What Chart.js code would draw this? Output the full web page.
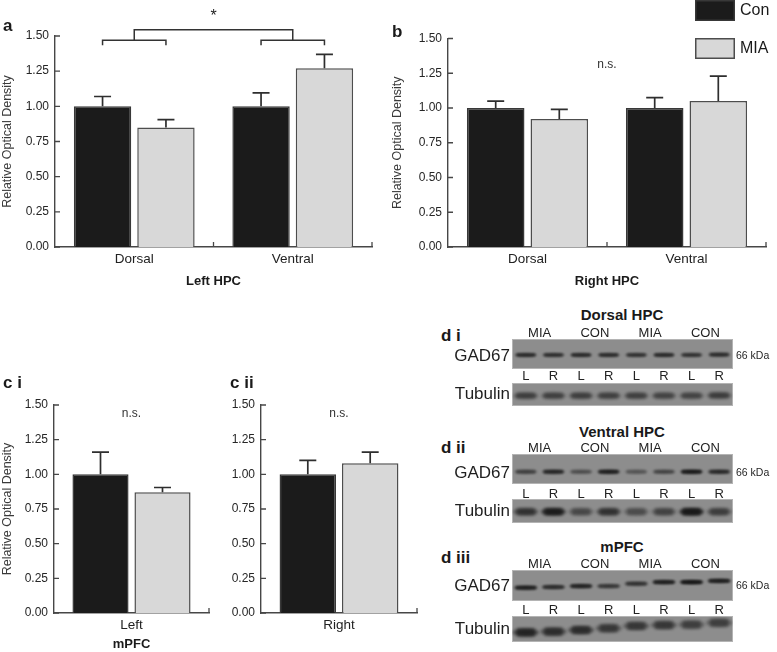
<!DOCTYPE html>
<html>
<head>
<meta charset="utf-8">
<script src="https://cdn.jsdelivr.net/npm/chart.js@4.4.1/dist/chart.umd.min.js"></script>
<style>
  html, body { margin: 0; padding: 0; background: #fff; }
  body { width: 777px; height: 652px; position: relative; overflow: hidden;
         font-family: "Liberation Sans", Arial, Helvetica, sans-serif; color: #1a1a1a; }
  .box { position: absolute; }
  .lab { position: absolute; font-weight: bold; line-height: 1; white-space: nowrap; }
</style>
</head>
<body>
<div class="box" style="left:0;top:0;width:390px;height:300px"><canvas id="chA"></canvas></div>
<div class="box" style="left:390px;top:0;width:387px;height:300px"><canvas id="chB"></canvas></div>
<div class="box" style="left:0;top:300px;width:225px;height:352px"><canvas id="chCi"></canvas></div>
<div class="box" style="left:225px;top:300px;width:200px;height:352px"><canvas id="chCii"></canvas></div>

<div class="lab" style="left:3px;top:17px;font-size:17px">a</div>
<div class="lab" style="left:392px;top:23px;font-size:17px">b</div>
<div class="lab" style="left:3px;top:374px;font-size:17px">c i</div>
<div class="lab" style="left:230px;top:374px;font-size:17px">c ii</div>
<div class="lab" style="left:441px;top:327px;font-size:17px">d i</div>
<div class="lab" style="left:441px;top:439px;font-size:17px">d ii</div>
<div class="lab" style="left:441px;top:549px;font-size:17px">d iii</div>
<div class="lab" style="left:522px;top:307px;width:200px;text-align:center;font-size:15px">Dorsal HPC</div>
<div class="lab" style="left:522px;top:424px;width:200px;text-align:center;font-size:15px">Ventral HPC</div>
<div class="lab" style="left:522px;top:539px;width:200px;text-align:center;font-size:15px">mPFC</div>

<script>
// ---- data ----
const groups = ['Con', 'MIA'];
const hpcRegions = ['Dorsal', 'Ventral'];
const sides = ['Left', 'Right'];
const yTicks = [0, 0.25, 0.5, 0.75, 1.0, 1.25, 1.5];

const leftHpcCon = [1.00, 1.00];
const leftHpcConSem = [0.07, 0.095];
const leftHpcMia = [0.85, 1.27];
const leftHpcMiaSem = [0.055, 0.10];

const rightHpcCon = [1.00, 1.00];
const rightHpcConSem = [0.05, 0.075];
const rightHpcMia = [0.92, 1.05];
const rightHpcMiaSem = [0.07, 0.18];

// mPFC: Left, Right
const mpfcCon = [1.00, 1.00];
const mpfcConSem = [0.16, 0.10];
const mpfcMia = [0.87, 1.08];
const mpfcMiaSem = [0.035, 0.08];

// western blots: lanes, band darkness and band height in strip (0 = bottom, 1 = top)
const lanes = ['L', 'R', 'L', 'R', 'L', 'R', 'L', 'R'];
const laneGroups = ['MIA', 'CON', 'MIA', 'CON'];
const diGad = [0.60, 0.56, 0.60, 0.58, 0.52, 0.60, 0.52, 0.60];
const diGadPos = [0.47, 0.47, 0.47, 0.47, 0.47, 0.47, 0.47, 0.48];
const diTub = [0.42, 0.40, 0.42, 0.40, 0.40, 0.38, 0.38, 0.43];
const diTubPos = [0.45, 0.45, 0.45, 0.45, 0.45, 0.45, 0.45, 0.46];
const diiGad = [0.42, 0.62, 0.32, 0.70, 0.28, 0.38, 0.75, 0.60];
const diiGadPos = [0.41, 0.41, 0.41, 0.41, 0.41, 0.41, 0.41, 0.41];
const diiTub = [0.50, 0.72, 0.34, 0.50, 0.32, 0.38, 0.78, 0.42];
const diiTubPos = [0.47, 0.47, 0.47, 0.47, 0.47, 0.47, 0.47, 0.47];
const diiiGad = [0.70, 0.56, 0.65, 0.48, 0.52, 0.70, 0.80, 0.70];
const diiiGadPos = [0.43, 0.45, 0.48, 0.48, 0.56, 0.61, 0.61, 0.65];
const diiiTub = [0.62, 0.54, 0.54, 0.45, 0.45, 0.45, 0.40, 0.40];
const diiiTubPos = [0.37, 0.40, 0.46, 0.53, 0.62, 0.65, 0.67, 0.74];

Chart.defaults.font.family = '"Liberation Sans", Arial, Helvetica, sans-serif';
Chart.defaults.color = '#262626';

// error bars, inward ticks, brackets, n.s., key
const decorPlugin = {
  id: 'decor',
  afterDatasetsDraw(chart, args, o) {
    const { ctx, chartArea } = chart;
    const xs = chart.scales.x, ys = chart.scales.y;
    const fam = Chart.defaults.font.family;
    ctx.save();
    ctx.strokeStyle = '#2e2e2e';
    ctx.lineWidth = 1.7;
    chart.data.datasets.forEach((ds, di) => {
      chart.getDatasetMeta(di).data.forEach((bar, i) => {
        const y0 = ys.getPixelForValue(ds.data[i]);
        const y1 = ys.getPixelForValue(ds.data[i] + ds.sem[i]);
        ctx.beginPath();
        ctx.moveTo(bar.x, y0); ctx.lineTo(bar.x, y1);
        ctx.moveTo(bar.x - 8.5, y1); ctx.lineTo(bar.x + 8.5, y1);
        ctx.stroke();
      });
    });

    ctx.strokeStyle = '#474747';
    ctx.lineWidth = 1.3;
    ctx.beginPath();
    ys.ticks.forEach(t => {
      const py = ys.getPixelForValue(t.value);
      ctx.moveTo(chartArea.left, py); ctx.lineTo(chartArea.left + 5, py);
    });
    chart.data.labels.forEach((l, i) => {
      const px = xs.getPixelForValue(i + 0.5);
      ctx.moveTo(px, chartArea.bottom); ctx.lineTo(px, chartArea.bottom - 5);
    });
    ctx.stroke();

    if (o.bracket) {
      const b = o.bracket;
      const m0 = chart.getDatasetMeta(0).data, m1 = chart.getDatasetMeta(1).data;
      const yl = ys.getPixelForValue(b.low), yh = ys.getPixelForValue(b.high);
      const mids = [];
      ctx.strokeStyle = '#333';
      ctx.lineWidth = 1.5;
      ctx.beginPath();
      m0.forEach((bar, i) => {
        const xa = bar.x, xb = m1[i].x;
        ctx.moveTo(xa, yl + 5); ctx.lineTo(xa, yl); ctx.lineTo(xb, yl); ctx.lineTo(xb, yl + 5);
        mids.push((xa + xb) / 2);
      });
      ctx.moveTo(mids[0], yl); ctx.lineTo(mids[0], yh); ctx.lineTo(mids[1], yh); ctx.lineTo(mids[1], yl);
      ctx.stroke();
      ctx.fillStyle = '#222';
      ctx.font = '16px ' + fam;
      ctx.textAlign = 'center';
      ctx.textBaseline = 'middle';
      ctx.fillText('*', (mids[0] + mids[1]) / 2, ys.getPixelForValue(b.star));
    }

    if (o.ns != null) {
      ctx.fillStyle = '#333';
      ctx.font = '12px ' + fam;
      ctx.textAlign = 'center';
      ctx.textBaseline = 'middle';
      ctx.fillText('n.s.', (chartArea.left + chartArea.right) / 2, ys.getPixelForValue(o.ns));
    }

    if (o.key) {
      chart.data.datasets.forEach((ds, i) => {
        const y = o.key.y + i * o.key.step;
        ctx.fillStyle = ds.backgroundColor;
        ctx.fillRect(o.key.x, y, 40, 21);
        ctx.strokeStyle = ds.borderColor;
        ctx.lineWidth = 1.5;
        ctx.strokeRect(o.key.x + 0.75, y + 0.75, 38.5, 19.5);
        ctx.fillStyle = '#1a1a1a';
        ctx.font = '16px ' + fam;
        ctx.textAlign = 'left';
        ctx.textBaseline = 'middle';
        ctx.fillText(ds.label, o.key.x + 45, y + 11);
      });
    }
    ctx.restore();
  }
};

function barPanel(id, cats, con, conSem, mia, miaSem, cfg) {
  return new Chart(document.getElementById(id), {
    type: 'bar',
    data: {
      labels: cats,
      datasets: [
        { label: groups[0], data: con, sem: conSem, backgroundColor: '#1b1b1b', borderColor: '#383838' },
        { label: groups[1], data: mia, sem: miaSem, backgroundColor: '#d8d8d8', borderColor: '#4d4d4d' }
      ]
    },
    options: {
      responsive: true, maintainAspectRatio: false, animation: false, events: [],
      layout: { padding: { top: cfg.top, right: cfg.right, left: 0, bottom: 0 } },
      datasets: { bar: { borderWidth: 1.5, categoryPercentage: 0.8, barPercentage: 0.905 } },
      plugins: { legend: { display: false }, tooltip: { enabled: false }, decor: cfg.decor },
      scales: {
        x: {
          grid: { display: false, drawTicks: false },
          border: { color: '#474747', width: 1.4 },
          ticks: { font: { size: 13.5 }, color: '#222', padding: 4 },
          title: { display: !!cfg.xTitle, text: cfg.xTitle || '', font: { size: 13, weight: 'bold' },
                   color: '#1a1a1a', padding: { top: 0, bottom: cfg.xTitlePad } },
          afterFit: s => { s.height = cfg.xh; }
        },
        y: {
          min: 0, max: 1.5,
          afterBuildTicks: s => { s.ticks = yTicks.map(v => ({ value: v })); },
          grid: { display: false, drawTicks: false },
          border: { color: '#474747', width: 1.4 },
          ticks: { font: { size: 12 }, color: '#262626', padding: 6, callback: v => v.toFixed(2) },
          title: { display: !!cfg.yTitle, text: cfg.yTitle || '', font: { size: 12.5 }, color: '#3a3a3a',
                   padding: { top: 0, bottom: 0 } },
          afterFit: s => { s.width = cfg.yw; }
        }
      }
    },
    plugins: [decorPlugin]
  });
}

barPanel('chA', hpcRegions, leftHpcCon, leftHpcConSem, leftHpcMia, leftHpcMiaSem, {
  top: 36, right: 18, yw: 55, xh: 53, xTitle: 'Left HPC', xTitlePad: 11,
  yTitle: 'Relative Optical Density',
  decor: { bracket: { low: 1.47, high: 1.545, star: 1.64 } }
});
barPanel('chB', hpcRegions, rightHpcCon, rightHpcConSem, rightHpcMia, rightHpcMiaSem, {
  top: 38.5, right: 11, yw: 58, xh: 53, xTitle: 'Right HPC', xTitlePad: 11,
  yTitle: 'Relative Optical Density',
  decor: { ns: 1.31, key: { x: 305, y: 0, step: 38 } }
});
barPanel('chCi', [sides[0]], [mpfcCon[0]], [mpfcConSem[0]], [mpfcMia[0]], [mpfcMiaSem[0]], {
  top: 105, right: 16, yw: 54, xh: 39, xTitle: 'mPFC', xTitlePad: 0,
  yTitle: 'Relative Optical Density',
  decor: { ns: 1.44 }
});
barPanel('chCii', [sides[1]], [mpfcCon[1]], [mpfcConSem[1]], [mpfcMia[1]], [mpfcMiaSem[1]], {
  top: 105, right: 8, yw: 36, xh: 39,
  decor: { ns: 1.44 }
});

// ---- western blot strips ----
const bandCache = {};
function bandImg(d, b) {
  const key = [d, b.w, b.h, b.blur].join('_');
  if (bandCache[key]) return bandCache[key];
  const c = document.createElement('canvas');
  c.width = b.w + 12; c.height = Math.ceil(b.h) + 12;
  const g = c.getContext('2d');
  g.filter = 'blur(' + b.blur + 'px)';
  g.fillStyle = 'rgba(18,18,18,' + d + ')';
  g.beginPath();
  g.ellipse(c.width / 2, c.height / 2, b.w / 2, b.h / 2, 0, 0, Math.PI * 2);
  g.fill();
  g.fillRect(c.width / 2 - b.w / 2 + b.h / 2, c.height / 2 - b.h / 2, b.w - b.h, b.h);
  bandCache[key] = c;
  return c;
}

const blotBg = {
  id: 'blotBg',
  beforeDatasetsDraw(chart) {
    const { ctx, chartArea: a } = chart;
    ctx.save();
    ctx.fillStyle = '#8d8d8d';
    ctx.fillRect(a.left, a.top, a.right - a.left, a.bottom - a.top);
    ctx.strokeStyle = '#b4b4b4';
    ctx.lineWidth = 1;
    ctx.strokeRect(a.left + 0.5, a.top + 0.5, a.right - a.left - 1, a.bottom - a.top - 1);
    ctx.restore();
  }
};

const blotRegions = [
  { gadTop: 339, gadBottom: 369, tubTop: 383, tubBottom: 406, lrPad: 0.5, gadLabelAt: 0.42,
    gad: diGad, gadPos: diGadPos, tub: diTub, tubPos: diTubPos,
    gadBand: { w: 22, h: 3.5, blur: 1.1 }, tubBand: { w: 25, h: 6, blur: 1.8 } },
  { gadTop: 454, gadBottom: 484, tubTop: 499, tubBottom: 523, lrPad: 3.5, gadLabelAt: 0.37,
    gad: diiGad, gadPos: diiGadPos, tub: diiTub, tubPos: diiTubPos,
    gadBand: { w: 23, h: 3.8, blur: 1.2 }, tubBand: { w: 25, h: 7, blur: 1.8 } },
  { gadTop: 570, gadBottom: 601, tubTop: 616, tubBottom: 642, lrPad: 2.5, gadLabelAt: 0.47,
    gad: diiiGad, gadPos: diiiGadPos, tub: diiiTub, tubPos: diiiTubPos,
    gadBand: { w: 24, h: 3.8, blur: 1.1 }, tubBand: { w: 26, h: 8, blur: 1.8 } }
];

function blotStrip(r, isGad) {
  // room above/below the strip for the axes (labels only on the GAD67 strip)
  const padTop = isGad ? 16 : 12, padBottom = isGad ? 17 : 12;
  const top = (isGad ? r.gadTop : r.tubTop) - padTop;
  const bottom = (isGad ? r.gadBottom : r.tubBottom) + padBottom;
  const holder = document.createElement('div');
  holder.className = 'box';
  holder.style.cssText = 'left:440px;top:' + top + 'px;width:337px;height:' + (bottom - top) + 'px';
  const cv = document.createElement('canvas');
  holder.appendChild(cv);
  document.body.appendChild(holder);
  const band = isGad ? r.gadBand : r.tubBand;
  const dens = isGad ? r.gad : r.tub;
  const labelAt = isGad ? r.gadLabelAt : 0.5;
  const noPad = s => { s.paddingTop = 0; s.paddingBottom = 0; };
  new Chart(cv, {
    type: 'line',
    data: {
      labels: lanes,
      datasets: [{
        data: isGad ? r.gadPos : r.tubPos, xAxisID: 'x', yAxisID: 'y',
        showLine: false, clip: 0, pointRadius: 1,
        pointStyle: c => bandImg(dens[c.dataIndex], band)
      }]
    },
    options: {
      responsive: true, maintainAspectRatio: false, animation: false, events: [],
      layout: { padding: 0 },
      plugins: { legend: { display: false }, tooltip: { enabled: false } },
      scales: {
        x: {
          type: 'category', offset: true,
          grid: { display: false, drawTicks: false }, border: { display: false },
          ticks: { display: isGad, font: { size: 13, lineHeight: 1 }, color: '#222', padding: r.lrPad, autoSkip: false, maxRotation: 0 },
          afterFit: s => { s.height = padBottom; s.paddingLeft = 0; s.paddingRight = 0; }
        },
        x2: {
          type: 'category', labels: laneGroups, position: 'top', offset: true,
          grid: { display: false, drawTicks: false }, border: { display: false },
          ticks: { display: isGad, font: { size: 13, lineHeight: 1 }, color: '#222', padding: -1.4, autoSkip: false, maxRotation: 0 },
          afterFit: s => { s.height = padTop; s.paddingLeft = 0; s.paddingRight = 0; }
        },
        y: {
          type: 'linear', min: 0, max: 1,
          afterBuildTicks: s => { s.ticks = [{ value: labelAt }]; },
          grid: { display: false, drawTicks: false }, border: { display: false },
          ticks: { font: { size: 17 }, color: '#1f1f1f', padding: 2, callback: () => (isGad ? 'GAD67' : 'Tubulin') },
          afterFit: s => { s.width = 72; noPad(s); }
        },
        y2: {
          type: 'linear', position: 'right', min: 0, max: 1,
          afterBuildTicks: s => { s.ticks = [{ value: labelAt }]; },
          grid: { display: false, drawTicks: false }, border: { display: false },
          ticks: { display: isGad, font: { size: 10.5 }, color: '#262626', padding: 3, callback: () => '66 kDa' },
          afterFit: s => { s.width = 44; noPad(s); }
        }
      }
    },
    plugins: [blotBg]
  });
}

blotRegions.forEach(r => { blotStrip(r, true); blotStrip(r, false); });
</script>
</body>
</html>
